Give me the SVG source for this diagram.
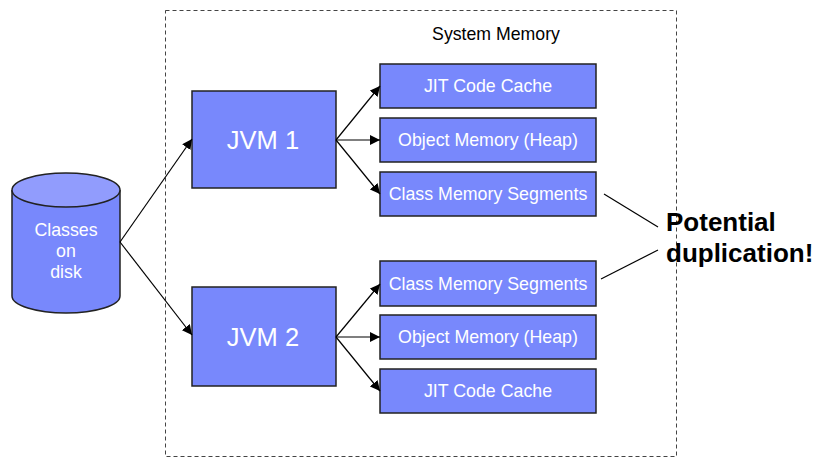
<svg xmlns="http://www.w3.org/2000/svg" width="820" height="458" viewBox="0 0 820 458">
  <style>
    .box { fill: #7888fc; stroke: #222; stroke-width: 1.5; }
    .lbl { fill: #fff; font-family: "Liberation Sans", Arial, sans-serif; text-anchor: middle; }
    .small { font-size: 17.8px; }
    .big { font-size: 25.5px; }
    .conn { stroke: #000; stroke-width: 1.2; fill: none; }
    .note { stroke: #000; stroke-width: 1.2; fill: none; }
  </style>
  <defs>
    <marker id="arrow" viewBox="0 0 10 10" refX="10" refY="5" markerWidth="10" markerHeight="10" markerUnits="userSpaceOnUse" orient="auto">
      <path d="M0,0 L10,5 L0,10 z" fill="#000"/>
    </marker>
  </defs>
  <rect width="820" height="458" fill="#fff"/>

  <!-- memory boundary -->
  <g id="system-memory">
    <rect x="165.5" y="10.5" width="511" height="446" fill="none" stroke="#444" stroke-width="1" stroke-dasharray="4,3"/>
    <text x="496" y="40" font-family="Liberation Sans, Arial, sans-serif" font-size="17.7" fill="#000" text-anchor="middle">System Memory</text>
  </g>

  <!-- disk -->
  <g id="classes-on-disk">
    <path d="M12,190 L12,296 A54,17 0 0 0 120,296 L120,190" fill="#7888fc" stroke="#222" stroke-width="1.5"/>
    <ellipse cx="66" cy="190" rx="54" ry="17" fill="#919cfd" stroke="#222" stroke-width="1.5"/>
    <text class="lbl small" x="66" y="236">Classes</text>
    <text class="lbl small" x="66" y="257">on</text>
    <text class="lbl small" x="66" y="278">disk</text>
  </g>

  <g id="jvm1">
    <rect class="box" x="192" y="91" width="144" height="97"/>
    <text class="lbl big" x="263" y="149">JVM 1</text>
  </g>
  <g id="jvm2">
    <rect class="box" x="192" y="287" width="144" height="99"/>
    <text class="lbl big" x="263" y="346">JVM 2</text>
  </g>

  <g id="jit1">
    <rect class="box" x="380" y="64" width="216" height="44"/>
    <text class="lbl small" x="488" y="92">JIT Code Cache</text>
  </g>
  <g id="heap1">
    <rect class="box" x="380" y="118" width="216" height="44"/>
    <text class="lbl small" x="488" y="146">Object Memory (Heap)</text>
  </g>
  <g id="classmem1">
    <rect class="box" x="380" y="172" width="216" height="44"/>
    <text class="lbl small" x="488" y="200">Class Memory Segments</text>
  </g>
  <g id="classmem2">
    <rect class="box" x="380" y="261" width="216" height="45"/>
    <text class="lbl small" x="488" y="290">Class Memory Segments</text>
  </g>
  <g id="heap2">
    <rect class="box" x="380" y="315" width="216" height="44"/>
    <text class="lbl small" x="488" y="343">Object Memory (Heap)</text>
  </g>
  <g id="jit2">
    <rect class="box" x="380" y="369" width="216" height="44"/>
    <text class="lbl small" x="488" y="397">JIT Code Cache</text>
  </g>

  <g id="connectors">
    <line class="conn" x1="120" y1="242" x2="192" y2="139" marker-end="url(#arrow)" stroke-width="1.6"/>
    <line class="conn" x1="120" y1="242" x2="192" y2="335" marker-end="url(#arrow)"/>
    <line class="conn" x1="336" y1="140" x2="380" y2="86" marker-end="url(#arrow)"/>
    <line class="conn" x1="336" y1="140" x2="380" y2="140" marker-end="url(#arrow)"/>
    <line class="conn" x1="336" y1="140" x2="380" y2="194" marker-end="url(#arrow)"/>
    <line class="conn" x1="336" y1="337" x2="380" y2="284" marker-end="url(#arrow)"/>
    <line class="conn" x1="336" y1="337" x2="380" y2="337" marker-end="url(#arrow)" stroke-width="1.6"/>
    <line class="conn" x1="336" y1="337" x2="380" y2="391" marker-end="url(#arrow)"/>
    <line class="note" x1="604" y1="194" x2="658" y2="227"/>
    <line class="note" x1="601" y1="279" x2="658" y2="250"/>
  </g>

  <g id="duplication-note">
    <text x="666" y="231" font-family="Liberation Sans, Arial, sans-serif" font-size="26" font-weight="bold" fill="#000">Potential</text>
    <text x="666" y="262" font-family="Liberation Sans, Arial, sans-serif" font-size="26" font-weight="bold" fill="#000">duplication!</text>
  </g>
</svg>
